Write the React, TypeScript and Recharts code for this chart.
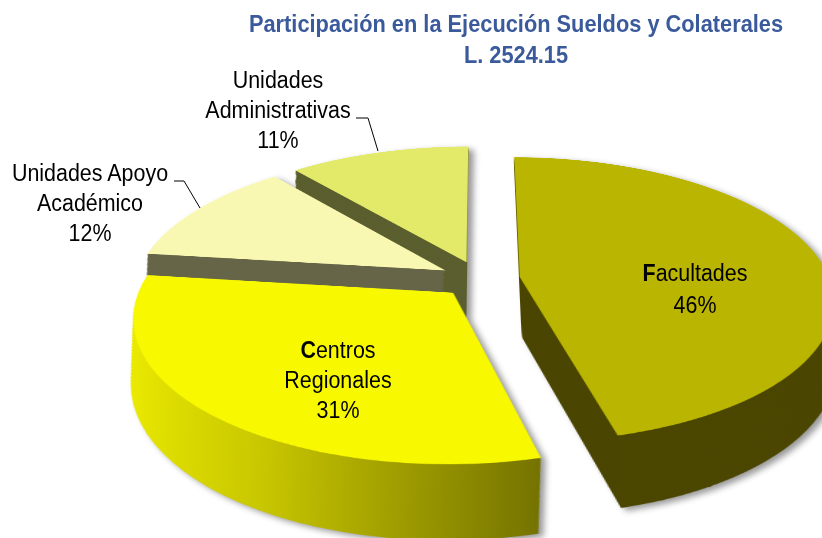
import { Cell, Pie, PieChart } from "recharts";

// datos del gráfico
const categorias = ["Facultades", "Centros Regionales", "Unidades Apoyo Académico", "Unidades Administrativas"];
const porcentajes = [46, 31, 12, 11];
const titulo = ["Participación en la Ejecución Sueldos y Colaterales", "L. 2524.15"];

// estilos
const colorTapa = ["#bab500", "#f8f800", "#f9f8b3", "#e3ea6a"];
const colorLado = ["#4b4600", "url(#ladoCentros)", "#666548", "#5b5e2e"];
const ORDEN = [3, 2, 0, 1]; // de atrás hacia adelante

const RADIO = 310;
const GROSOR = 128;
const CAPAS = 45;
const EXPLOTA = 40;
const INCLINA = 63.3;
const U = 0.16;
const PERSPECTIVA = (RADIO * Math.sin((INCLINA * Math.PI) / 180)) / U;
const CX = 380;
const CY = 390;

const texto = {
  fontFamily: '"Liberation Sans", Arial, sans-serif',
  fontSize: 23.3,
  lineHeight: "30px",
  color: "#000",
  textAlign: "center" as const,
  position: "absolute" as const,
  width: 300,
  transform: "scaleX(0.92)",
  whiteSpace: "nowrap" as const,
};

export default function App() {
  const total = porcentajes.reduce((a, b) => a + b, 0);
  const data = categorias.map((nombre, i) => ({ nombre, valor: porcentajes[i] }));

  let acum = 0;
  const desplaz = porcentajes.map((v) => {
    const medio = ((acum + v / 2) / total) * 2 * Math.PI;
    acum += v;
    return { dx: EXPLOTA * Math.sin(medio), dy: -EXPLOTA * Math.cos(medio) };
  });
  const capas = Array.from({ length: CAPAS }, (_, k) => GROSOR * (1 - k / CAPAS));

  const porciones = ORDEN.flatMap((i) => [
    ...capas.map((d, k) => (
      <Pie
        key={`lado-${i}-${k}`}
        data={data}
        dataKey="valor"
        nameKey="nombre"
        cx={CX + desplaz[i].dx}
        cy={CY + desplaz[i].dy + d}
        outerRadius={RADIO - U * d}
        startAngle={90}
        endAngle={-270}
        stroke="none"
        isAnimationActive={false}
      >
        {data.map((_, j) => (
          <Cell key={j} fill={j === i ? colorLado[i] : "none"} />
        ))}
      </Pie>
    )),
    <Pie
      key={`tapa-${i}`}
      data={data}
      dataKey="valor"
      nameKey="nombre"
      cx={CX + desplaz[i].dx}
      cy={CY + desplaz[i].dy}
      outerRadius={RADIO}
      startAngle={90}
      endAngle={-270}
      stroke="none"
      isAnimationActive={false}
    >
      {data.map((_, j) => (
        <Cell key={j} fill={j === i ? colorTapa[i] : "none"} />
      ))}
    </Pie>,
  ]);

  return (
    <div
      style={{
        position: "absolute",
        left: 0,
        top: 0,
        width: 822,
        height: 538,
        overflow: "hidden",
        background: "#fff",
      }}
    >
      <div style={{ position: "absolute", inset: 0, filter: "drop-shadow(5px 3px 3px rgba(0,0,0,0.4))" }}>
        <div
          style={{
            position: "absolute",
            left: 480 - CX,
            top: 279 - CY,
            width: 760,
            height: 960,
            transformOrigin: `${CX}px ${CY}px`,
            transform: `perspective(${PERSPECTIVA}px) rotateX(${INCLINA}deg)`,
          }}
        >
          <PieChart width={760} height={960} margin={{ top: 0, right: 0, bottom: 0, left: 0 }}>
            <defs>
              <linearGradient id="ladoCentros" x1="0" y1="0" x2="1" y2="0">
                <stop offset="0%" stopColor="#ecec00" />
                <stop offset="40%" stopColor="#c8c600" />
                <stop offset="100%" stopColor="#757300" />
              </linearGradient>
            </defs>
            {porciones}
          </PieChart>
        </div>
      </div>

      <div style={{ ...texto, left: 516 - 300, width: 600, top: 9, fontWeight: "bold", fontSize: 23.7, lineHeight: "31px", color: "#3a5a9b" }}>
        {titulo[0]}
        <br />
        {titulo[1]}
      </div>

      <div style={{ ...texto, left: 278 - 150, top: 65 }}>
        Unidades
        <br />
        Administrativas
        <br />
        {porcentajes[3]}%
      </div>
      <div style={{ ...texto, left: 90 - 150, top: 158 }}>
        Unidades Apoyo
        <br />
        Académico
        <br />
        {porcentajes[2]}%
      </div>
      <div style={{ ...texto, left: 695 - 150, top: 257, lineHeight: "32px" }}>
        <b>F</b>acultades
        <br />
        {porcentajes[0]}%
      </div>
      <div style={{ ...texto, left: 338 - 150, top: 335 }}>
        <b>C</b>entros
        <br />
        Regionales
        <br />
        {porcentajes[1]}%
      </div>

      <svg width={822} height={538} style={{ position: "absolute", left: 0, top: 0, pointerEvents: "none" }}>
        <polyline points="174,181 184,181 200,208" fill="none" stroke="#000" strokeWidth={1} />
        <polyline points="356,118 368,118 378,151" fill="none" stroke="#000" strokeWidth={1} />
      </svg>
    </div>
  );
}
